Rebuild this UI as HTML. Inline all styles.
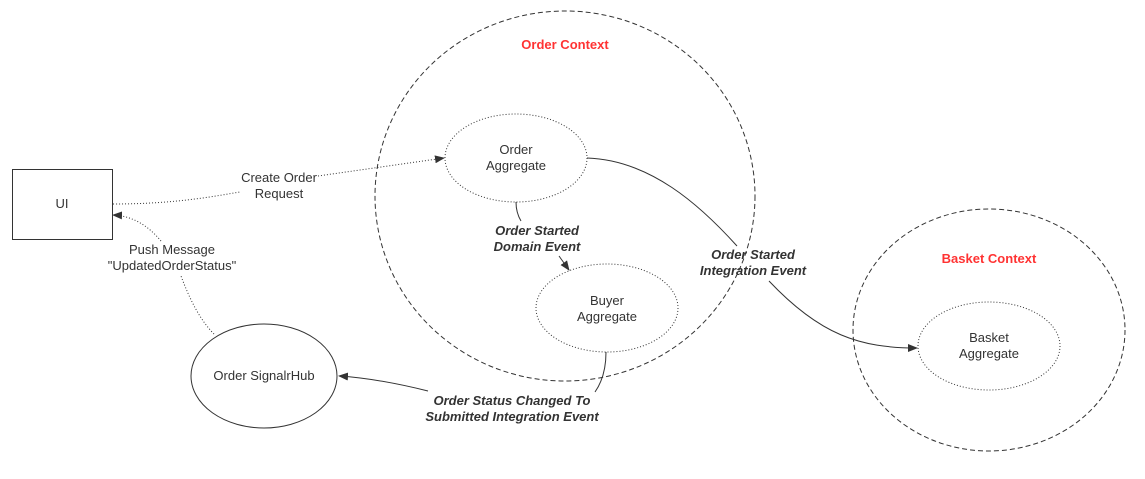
<!DOCTYPE html>
<html><head><style>
html,body{margin:0;padding:0;background:#fff;}
svg text{font-family:"Liberation Sans",sans-serif;font-size:13px;fill:#333;}
</style></head><body>
<svg width="1145" height="474" viewBox="0 0 1145 474" xmlns="http://www.w3.org/2000/svg">
<defs><marker id="a" markerWidth="10" markerHeight="8" refX="9" refY="4" orient="auto" markerUnits="userSpaceOnUse"><path d="M0,0 L10,4 L0,8 Z" fill="#333"/></marker></defs>
<rect x="12.5" y="169.5" width="100" height="70" fill="#fff" stroke="#333"/>
<text x="62" y="208" text-anchor="middle">UI</text>
<ellipse cx="565" cy="196" rx="190" ry="185" fill="none" stroke="#333" stroke-dasharray="5,3"/>
<text x="565" y="49" text-anchor="middle" style="fill:#ff3333;font-weight:bold">Order Context</text>
<ellipse cx="516" cy="158" rx="71" ry="44" fill="#fff" stroke="#333" stroke-dasharray="1,2"/>
<text x="516" y="154" text-anchor="middle">Order</text><text x="516" y="170" text-anchor="middle">Aggregate</text>
<ellipse cx="607" cy="308" rx="71" ry="44" fill="#fff" stroke="#333" stroke-dasharray="1,2"/>
<text x="607" y="305" text-anchor="middle">Buyer</text><text x="607" y="321" text-anchor="middle">Aggregate</text>
<ellipse cx="989" cy="330" rx="136" ry="121" fill="none" stroke="#333" stroke-dasharray="5,3"/>
<text x="989" y="263" text-anchor="middle" style="fill:#ff3333;font-weight:bold">Basket Context</text>
<ellipse cx="989" cy="346" rx="71" ry="44" fill="#fff" stroke="#333" stroke-dasharray="1,2"/>
<text x="989" y="342" text-anchor="middle">Basket</text><text x="989" y="358" text-anchor="middle">Aggregate</text>
<ellipse cx="264" cy="376" rx="73" ry="52" fill="#fff" stroke="#333"/>
<text x="264" y="380" text-anchor="middle">Order SignalrHub</text>
<path d="M113,204 C180,204 220,195 240,192 M318,176 L444,158" fill="none" stroke="#333" stroke-dasharray="1,2" marker-end="url(#a)"/>
<text x="279" y="182" text-anchor="middle">Create Order</text><text x="279" y="198" text-anchor="middle">Request</text>
<path d="M516,202 C516,210 518,216 521,221" fill="none" stroke="#333"/>
<path d="M559,256 L569,270" fill="none" stroke="#333" marker-end="url(#a)"/>
<text x="537" y="235" text-anchor="middle" style="font-weight:bold;font-style:italic">Order Started</text>
<text x="537" y="251" text-anchor="middle" style="font-weight:bold;font-style:italic">Domain Event</text>
<path d="M587,158 C650,160 700,205 737,246" fill="none" stroke="#333"/>
<path d="M769,281 C820,335 860,348 917,348" fill="none" stroke="#333" marker-end="url(#a)"/>
<text x="753" y="259" text-anchor="middle" style="font-weight:bold;font-style:italic">Order Started</text>
<text x="753" y="275" text-anchor="middle" style="font-weight:bold;font-style:italic">Integration Event</text>
<path d="M606,352 C606,370 602,382 595,392" fill="none" stroke="#333"/>
<path d="M428,391 C400,384 370,378 339,376" fill="none" stroke="#333" marker-end="url(#a)"/>
<text x="512" y="405" text-anchor="middle" style="font-weight:bold;font-style:italic">Order Status Changed To</text>
<text x="512" y="421" text-anchor="middle" style="font-weight:bold;font-style:italic">Submitted Integration Event</text>
<path d="M214,334 C200,320 190,300 181,276" fill="none" stroke="#333" stroke-dasharray="1,2"/>
<path d="M161,241 C150,228 135,216 113,215" fill="none" stroke="#333" stroke-dasharray="1,2" marker-end="url(#a)"/>
<text x="172" y="254" text-anchor="middle">Push Message</text>
<text x="172" y="270" text-anchor="middle">"UpdatedOrderStatus"</text>
</svg>
</body></html>
